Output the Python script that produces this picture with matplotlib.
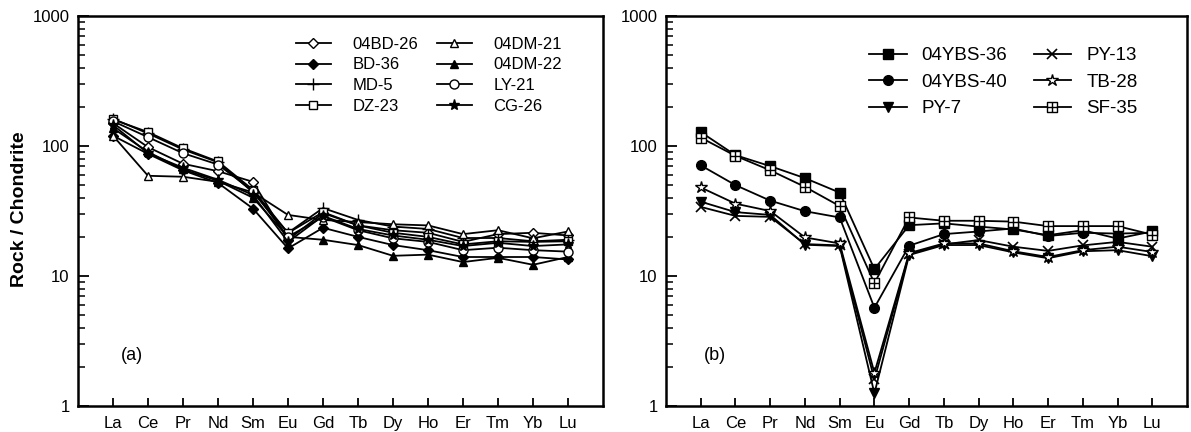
import matplotlib
matplotlib.use("Agg")
import matplotlib.pyplot as plt
from matplotlib.path import Path
from matplotlib.ticker import FixedLocator, NullFormatter

plt.rcParams["font.family"] = ["Liberation Sans", "DejaVu Sans"]

ELEMENTS = ["La", "Ce", "Pr", "Nd", "Sm", "Eu", "Gd", "Tb", "Dy", "Ho", "Er", "Tm", "Yb", "Lu"]

# panel (a) samples, chondrite-normalised
S_04BD26 = [150, 98, 73, 64, 53, 19.0, 30.5, 24.5, 22.5, 21.5, 18.3, 21.0, 21.5, 20.5]
S_BD36 = [120, 87, 65, 52, 33, 16.3, 23.5, 20.0, 17.3, 15.8, 14.0, 14.0, 14.0, 13.4]
S_MD5 = [162, 125, 94, 75, 44, 21.5, 33.3, 27.0, 24.0, 23.0, 19.6, 19.6, 18.5, 19.0]
S_DZ23 = [160, 128, 96, 76, 46, 21.4, 31.0, 24.5, 21.5, 20.0, 17.5, 18.5, 18.3, 18.5]
S_04DM21 = [120, 59, 58, 53, 44, 29.5, 27.0, 26.0, 25.0, 24.5, 21.0, 22.5, 19.5, 22.0]
S_04DM22 = [137, 90, 66, 54, 40, 20.0, 19.0, 17.3, 14.3, 14.6, 12.8, 13.8, 12.2, 14.0]
S_LY21 = [155, 117, 88, 72, 45, 20.0, 28.5, 22.5, 19.5, 18.3, 15.8, 16.5, 15.8, 15.4]
S_CG26 = [145, 88, 68, 55, 42, 18.3, 29.0, 23.0, 20.5, 19.0, 17.0, 18.0, 17.0, 17.5]

# panel (b) samples
S_04YBS36 = [128, 85, 70, 56.6, 43.8, 11.3, 24.6, 25.4, 24.0, 22.8, 20.6, 22.5, 19.4, 22.0]
S_04YBS40 = [71, 50, 38, 31.5, 28.2, 5.7, 17.1, 21.0, 22.0, 23.2, 20.3, 21.5, 21.2, 21.5]
S_PY7 = [37.3, 31, 29.5, 17.4, 17.0, 1.25, 14.5, 17.3, 17.3, 15.2, 13.7, 15.5, 15.8, 14.2]
S_PY13 = [34, 29, 28.5, 17.6, 17.2, 1.6, 14.8, 17.5, 18.9, 16.8, 15.6, 17.2, 18.3, 16.8]
S_TB28 = [48, 36, 31.6, 19.8, 17.8, 1.8, 15.0, 17.8, 17.8, 15.5, 14.0, 15.8, 16.8, 15.3]
S_SF35 = [116, 84, 65, 48.5, 34.5, 8.8, 28.2, 26.6, 26.6, 26.2, 24.2, 24.2, 24.2, 20.8]

# square with a cross inside
BOX_CROSS = Path(
    [(-1, -1), (1, -1), (1, 1), (-1, 1), (-1, -1), (0, -1), (0, 1), (-1, 0), (1, 0)],
    [Path.MOVETO, Path.LINETO, Path.LINETO, Path.LINETO, Path.CLOSEPOLY,
     Path.MOVETO, Path.LINETO, Path.MOVETO, Path.LINETO],
)

PANEL_A = [
    ("04BD-26", S_04BD26, dict(marker="D", mfc="white", ms=5)),
    ("BD-36", S_BD36, dict(marker="D", mfc="black", ms=5)),
    ("MD-5", S_MD5, dict(marker="+", mfc="black", ms=8.5)),
    ("DZ-23", S_DZ23, dict(marker="s", mfc="white", ms=6)),
    ("04DM-21", S_04DM21, dict(marker="^", mfc="white", ms=6)),
    ("04DM-22", S_04DM22, dict(marker="^", mfc="black", ms=6)),
    ("LY-21", S_LY21, dict(marker="o", mfc="white", ms=6.5)),
    ("CG-26", S_CG26, dict(marker="*", mfc="black", ms=8)),
]

PANEL_B = [
    ("04YBS-36", S_04YBS36, dict(marker="s", mfc="black", ms=7)),
    ("04YBS-40", S_04YBS40, dict(marker="o", mfc="black", ms=7)),
    ("PY-7", S_PY7, dict(marker="v", mfc="black", ms=7)),
    ("PY-13", S_PY13, dict(marker="x", mfc="black", ms=7, mew=1.2)),
    ("TB-28", S_TB28, dict(marker="*", mfc="white", ms=9)),
    ("SF-35", S_SF35, dict(marker=BOX_CROSS, mfc="white", ms=7)),
]


def draw_panel(ax, series, tag, tag_x, legend_kw):
    x = list(range(1, len(ELEMENTS) + 1))
    for name, vals, style in series:
        kw = dict(color="black", lw=1.3, mec="black", mew=1.0)
        kw.update(style)
        ax.plot(x, vals, label=name, **kw)

    ax.set_yscale("log")
    ax.set_ylim(1, 1000)
    ax.set_xlim(0, 15)
    ax.set_xticks(x)
    ax.set_xticklabels(ELEMENTS, fontsize=12)
    ax.yaxis.set_major_locator(FixedLocator([1, 10, 100, 1000]))
    ax.set_yticklabels(["1", "10", "100", "1000"], fontsize=12)
    ax.yaxis.set_minor_formatter(NullFormatter())
    ax.tick_params(axis="x", direction="in", length=6, width=1.3, pad=7)
    ax.tick_params(axis="y", which="major", direction="in", length=8, width=1.3, pad=6)
    ax.tick_params(axis="y", which="minor", direction="in", length=5, width=1.1)
    for sp in ax.spines.values():
        sp.set_linewidth(1.8)

    ax.text(tag_x, 2.45, tag, fontsize=13, ha="center", va="center")
    ax.legend(loc="upper left", ncol=2, frameon=False, borderpad=0,
              borderaxespad=0, **legend_kw)


fig = plt.figure(figsize=(11.91, 4.32), dpi=100)
ax_a = fig.add_axes([78 / 1191, 26 / 432, 525 / 1191, 390 / 432])
ax_b = fig.add_axes([666 / 1191, 26 / 432, 521 / 1191, 390 / 432])

draw_panel(ax_a, PANEL_A, "(a)", 1.55,
           dict(bbox_to_anchor=(0.415, 0.947), fontsize=12, handlelength=2.1,
                handletextpad=1.3, labelspacing=0.34, columnspacing=1.1))
draw_panel(ax_b, PANEL_B, "(b)", 1.4,
           dict(bbox_to_anchor=(0.39, 0.92), fontsize=13.5, handlelength=2.0,
                handletextpad=0.8, labelspacing=0.5, columnspacing=1.4))

fig.text(20 / 1191, 0.515, "Rock / Chondrite", rotation=90, fontsize=14,
         fontweight="bold", ha="center", va="center")

fig.savefig("out.png", dpi=100)
